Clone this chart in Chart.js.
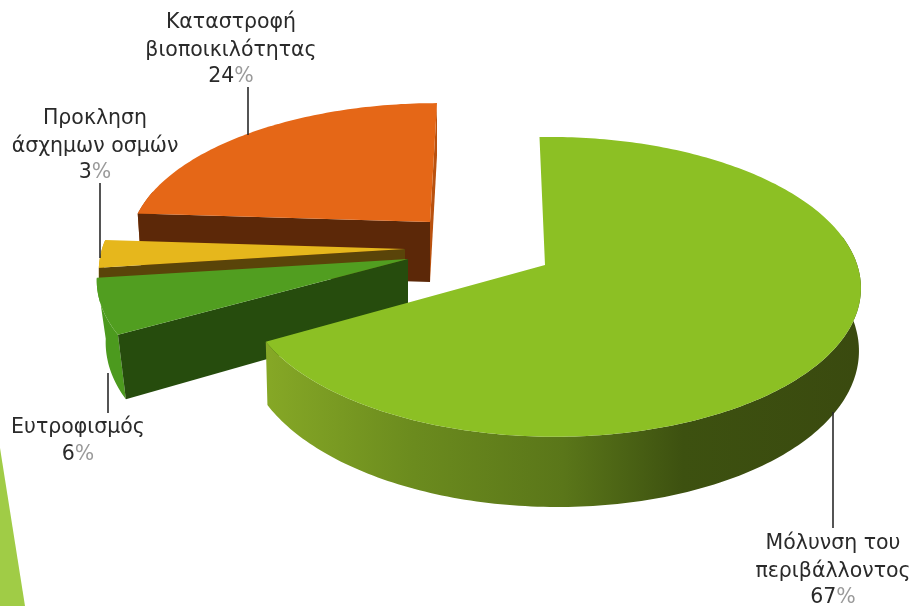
<!DOCTYPE html>
<html>
<head>
<meta charset="utf-8">
<title>Pie</title>
<script src="https://cdn.jsdelivr.net/npm/chart.js@4"></script>
<style>
  html, body { margin: 0; padding: 0; background: #fff; overflow: hidden; }
  canvas { display: block; filter: blur(0.5px); }
</style>
</head>
<body>
<canvas id="myChart" width="917" height="606"></canvas>
<script>
const categories = [
  ['Μόλυνση του', 'περιβάλλοντος'],
  ['Ευτροφισμός'],
  ['Προκληση', 'άσχημων οσμών'],
  ['Καταστροφή', 'βιοποικιλότητας']
];
const shares = [67, 6, 3, 24];

const topColors = ['#8cc024', '#519e20', '#e6b71c', '#e56717'];
const cutColors = ['#3a4d10', '#264c0d', '#5a4409', '#5c2808'];
const rimColors = ['#6b8a1e', '#4c9a1e', '#c59a10', '#a84a0c'];

// where each exploded slice sits on the page (tilted disc, slight perspective)
const discs = [
  { cx: 545, cy: 265, rx: 305, ry: 146.5, k: 0.144, kx: 0.03, sx: -15, sy: 8, rot: -4, lean: 2, depth: 60 },
  { cx: 408, cy: 259, rx: 308, ry: 146.5, k: 0.144, kx: 0, sx: 0, sy: 0, rot: 0, lean: 9, depth: 60 },
  { cx: 405, cy: 249, rx: 303, ry: 146.5, k: 0.144, kx: 0, sx: 0, sy: 0, rot: 0, lean: 0, depth: 25 },
  { cx: 430, cy: 222, rx: 296, ry: 136, k: 0.144, kx: 0, sx: -8, sy: 0, rot: 0, lean: 4, depth: 60 }
];
const drawOrder = [3, 2, 1, 0];

// label anchor: centre x, first line y, leader line x, y1, y2
const labelSpots = [
  { x: 833, y: 544, lx: 833, ly1: 412, ly2: 528 },
  { x: 78, y: 428, lx: 108, ly1: 373, ly2: 413 },
  { x: 95, y: 119, lx: 100, ly1: 183, ly2: 258 },
  { x: 231, y: 23, lx: 248, ly1: 87, ly2: 135 }
];

function project(d, theta, r) {
  const a = theta + d.rot * Math.PI / 180;
  const u = Math.sin(a) * r;
  const v = -Math.cos(a) * r;
  const p = 1 / (1 - d.k * v - d.kx * u);
  return {
    x: d.cx + (d.rx * u + d.sx * v) * p,
    y: d.cy + (d.ry * v + d.sy * u) * p,
    v: v,
    dx: -d.lean * u,
    depth: d.depth * p
  };
}

function fillPoints(ctx, pts, color) {
  ctx.beginPath();
  pts.forEach((pt, i) => {
    if (i === 0) ctx.moveTo(pt.x, pt.y);
    else ctx.lineTo(pt.x, pt.y);
  });
  ctx.closePath();
  ctx.fillStyle = color;
  ctx.fill();
}

function arcPoints(d, a0, a1) {
  const pts = [];
  const steps = Math.max(2, Math.ceil((a1 - a0) / (Math.PI / 180)));
  for (let s = 0; s <= steps; s++) {
    pts.push(project(d, a0 + (a1 - a0) * s / steps, 1));
  }
  return pts;
}

function lower(pt) {
  return { x: pt.x + pt.dx, y: pt.y + pt.depth };
}

function cutWall(d, theta) {
  const a = project(d, theta, 0);
  const b = project(d, theta, 1);
  return [a, b, lower(b), lower(a)];
}

const pie3d = {
  id: 'pie3d',
  beforeDraw(chart) {
    // slide decoration in the corner
    const ctx = chart.ctx;
    fillPoints(ctx, [{ x: 0, y: 448 }, { x: 25, y: 606 }, { x: 0, y: 606 }], '#a0cc46');
  },
  beforeDatasetsDraw(chart) {
    const ctx = chart.ctx;
    const arcs = chart.getDatasetMeta(0).data;

    drawOrder.forEach((i) => {
      const d = discs[i];
      // library angles start at 3 o'clock, ours at 12
      const a0 = arcs[i].startAngle + Math.PI / 2;
      const a1 = arcs[i].endAngle + Math.PI / 2;
      const rim = arcPoints(d, a0, a1);
      // the far part of the rim is never seen
      const nearRim = rim.filter((pt) => pt.v > -0.25);

      let rimFill = rimColors[i];
      if (i === 0) {
        rimFill = ctx.createLinearGradient(265, 0, 862, 0);
        rimFill.addColorStop(0, '#86a826');
        rimFill.addColorStop(0.25, '#6b8b1e');
        rimFill.addColorStop(0.5, '#5a7619');
        rimFill.addColorStop(0.7, '#3d5110');
        rimFill.addColorStop(1, '#3a4a0f');
      }
      fillPoints(ctx, nearRim.concat(nearRim.map(lower).reverse()), rimFill);

      if (i !== 0) fillPoints(ctx, cutWall(d, a0), cutColors[i]);
      if (i === 3) fillPoints(ctx, cutWall(d, a1), '#b9510f');

      fillPoints(ctx, [project(d, a0, 0)].concat(rim), topColors[i]);
    });

    return false;
  },
  afterDraw(chart) {
    const ctx = chart.ctx;
    const total = shares.reduce((a, b) => a + b, 0);
    ctx.textAlign = 'left';
    ctx.textBaseline = 'middle';
    ctx.font = '20.5px "DejaVu Sans"';

    categories.forEach((lines, i) => {
      const spot = labelSpots[i];
      ctx.strokeStyle = '#2a2a2a';
      ctx.lineWidth = 1.6;
      ctx.beginPath();
      ctx.moveTo(spot.lx, spot.ly1);
      ctx.lineTo(spot.lx, spot.ly2);
      ctx.stroke();

      ctx.fillStyle = '#2a2a2a';
      lines.forEach((line, n) => {
        const w = ctx.measureText(line).width;
        ctx.fillText(line, spot.x - w / 2, spot.y + n * 27.5);
      });

      const num = String(Math.round(shares[i] / total * 100));
      const numW = ctx.measureText(num).width;
      const pctW = ctx.measureText('%').width;
      const left = spot.x - (numW + pctW) / 2;
      const y = spot.y + lines.length * 27;
      ctx.fillText(num, left, y);
      ctx.fillStyle = '#9a9a9a';
      ctx.fillText('%', left + numW, y);
    });
  }
};

new Chart(document.getElementById('myChart'), {
  type: 'pie',
  data: {
    labels: categories.map((c) => c.join(' ')),
    datasets: [{ data: shares, backgroundColor: topColors, borderWidth: 0 }]
  },
  options: {
    responsive: false,
    animation: false,
    plugins: { legend: { display: false }, tooltip: { enabled: false } }
  },
  plugins: [pie3d]
});
</script>
</body>
</html>
